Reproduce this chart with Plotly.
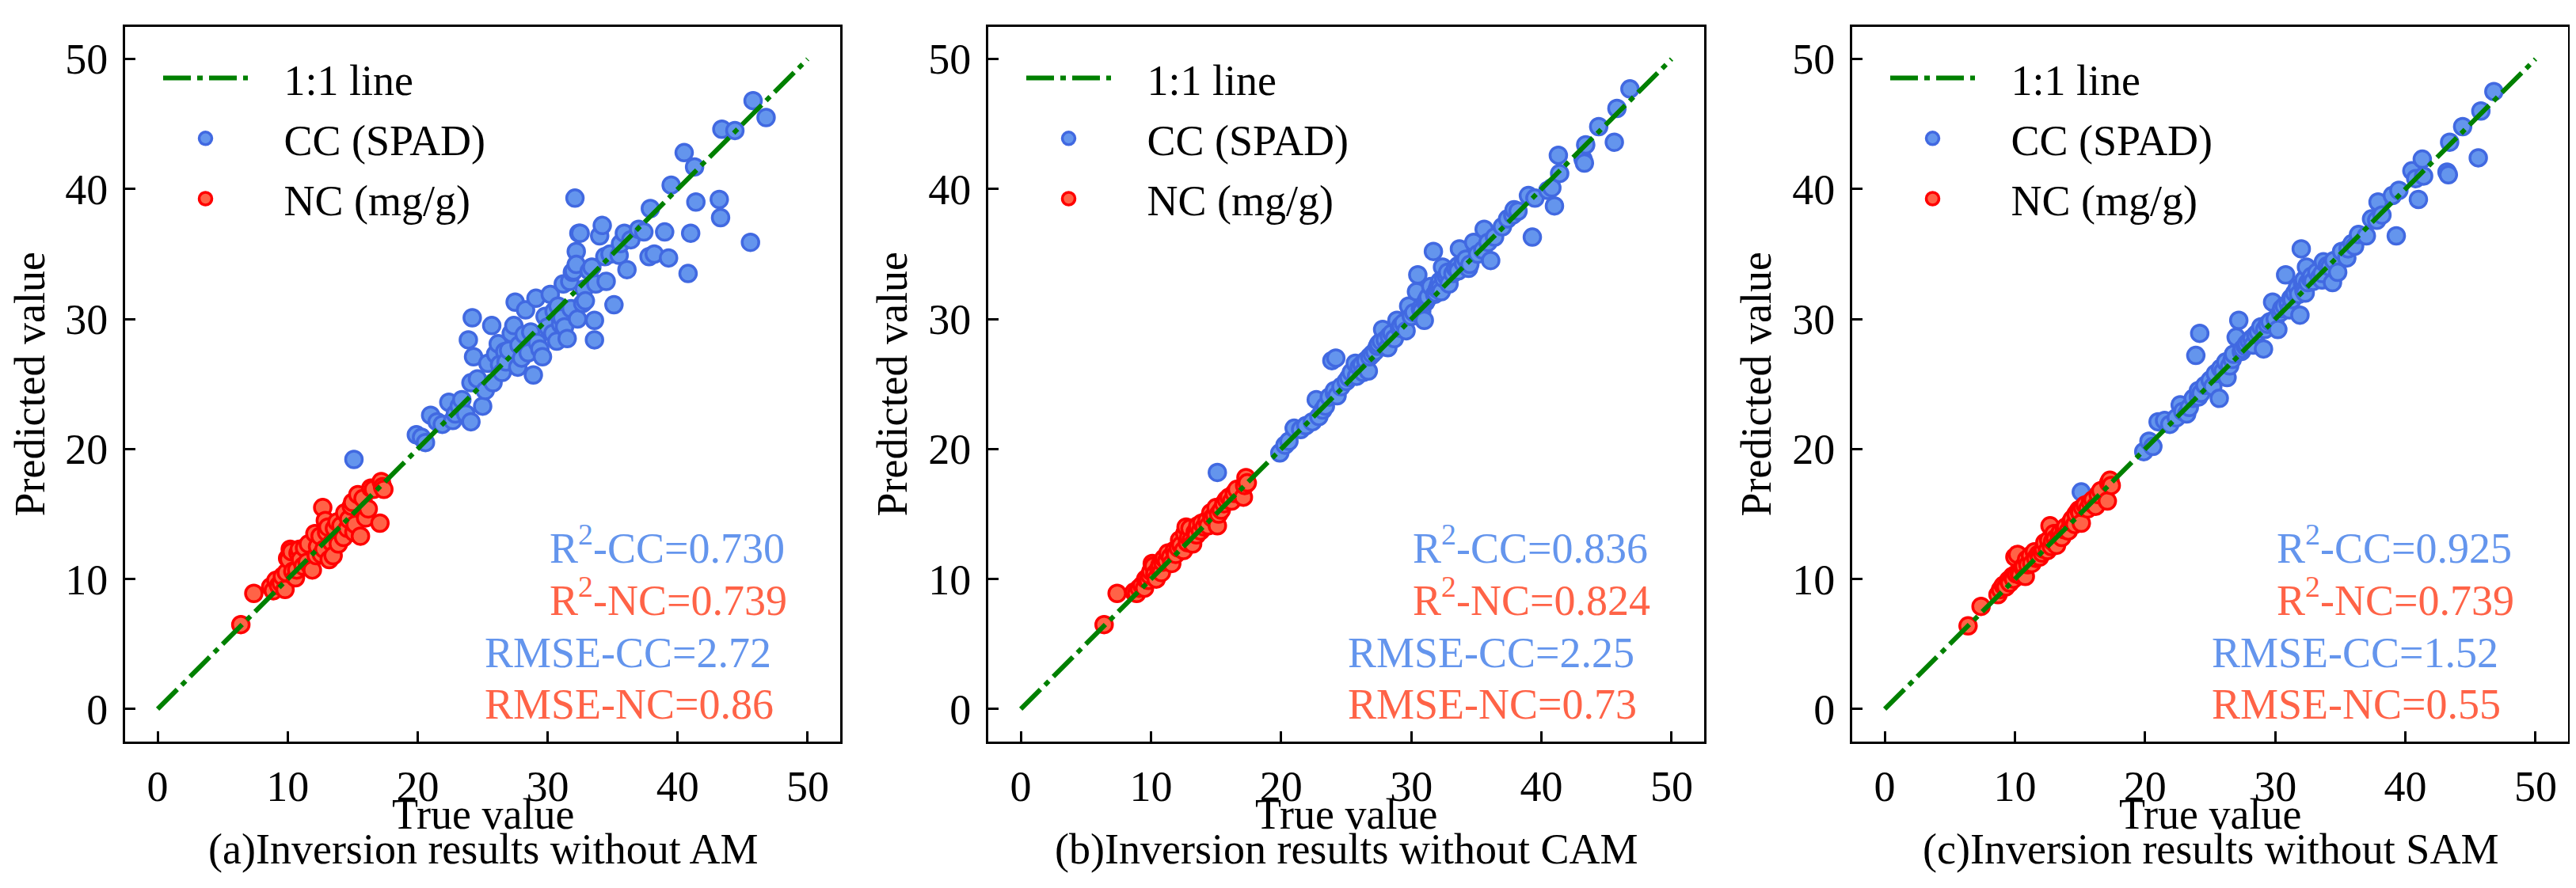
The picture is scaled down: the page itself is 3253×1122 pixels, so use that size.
import plotly.graph_objects as go

FONT = "Liberation Serif"
W, H = 3253, 1122

# shared true values (test set), one predicted list per model variant
cc_true = [15.1, 19.9, 20.3, 20.6, 21.0, 21.5, 21.9, 22.4, 22.7, 22.9,
           23.2, 23.4, 23.7, 23.9, 24.1, 24.1, 24.2, 24.3, 24.6, 25.0,
           25.2, 25.4, 25.7, 25.8, 26.0, 26.2, 26.3, 26.5, 26.7, 26.8,
           27.0, 27.2, 27.4, 27.5, 27.7, 27.8, 28.0, 28.2, 28.3, 28.5,
           28.7, 28.9, 29.1, 29.2, 29.4, 29.6, 29.8, 30.0, 30.2, 30.4,
           30.5, 30.7, 30.8, 31.0, 31.1, 31.2, 31.3, 31.5, 31.7, 31.8,
           31.9, 32.0, 32.1, 32.2, 32.2, 32.3, 32.4, 32.5, 32.7, 32.8,
           32.9, 33.2, 33.4, 33.6, 33.6, 33.7, 34.0, 34.2, 34.4, 34.5,
           34.8, 35.1, 35.5, 35.6, 35.9, 36.1, 36.4, 37.0, 37.4, 37.8,
           37.9, 38.2, 39.0, 39.3, 39.5, 40.5, 40.8, 41.0, 41.3, 41.4,
           43.2, 43.3, 43.4, 44.4, 45.6, 45.8, 46.8]
cc_pred_a = [19.2, 21.1, 20.9, 20.5, 22.6, 22.1, 21.9, 23.6, 22.2, 22.7,
             23.3, 23.8, 22.7, 28.4, 22.1, 25.1, 30.1, 27.1, 25.4, 23.3,
             24.5, 26.6, 29.5, 25.1, 27.3, 28.1, 26.5, 25.9, 27.5, 26.7,
             27.6, 28.9, 29.5, 31.3, 26.3, 28.0, 27.0, 28.8, 30.7, 27.4,
             29.0, 25.7, 31.6, 28.2, 27.7, 27.1, 30.2, 29.4, 31.9, 28.9,
             30.6, 28.3, 31.0, 29.6, 30.1, 32.7, 29.4, 28.5, 32.9, 30.8,
             33.6, 33.7, 39.3, 35.2, 34.2, 30.0, 36.6, 36.6, 31.2, 32.3,
             31.4, 33.7, 34.0, 28.4, 29.9, 32.7, 36.4, 37.2, 34.8, 32.9,
             35.0, 31.1, 34.9, 35.8, 36.6, 33.8, 36.1, 36.9, 36.7, 34.8,
             38.5, 35.0, 36.7, 34.7, 40.3, 42.8, 33.5, 36.6, 41.7, 39.0,
             39.2, 37.8, 44.6, 44.5, 35.9, 46.8, 45.5]
cc_pred_b = [18.2, 19.7, 20.3, 20.6, 21.6, 21.5, 21.8, 22.1, 23.8, 22.5,
             23.0, 23.3, 24.0, 26.8, 24.3, 24.5, 27.0, 24.1, 24.8, 25.2,
             25.5, 25.9, 26.6, 25.6, 26.3, 26.5, 25.9, 26.8, 26.0, 27.1,
             27.3, 27.5, 27.9, 28.1, 28.3, 29.2, 28.4, 27.8, 28.7, 28.9,
             28.5, 29.9, 29.3, 29.5, 29.7, 29.1, 31.0, 30.2, 30.5, 32.1,
             33.4, 30.8, 30.6, 29.9, 31.3, 31.5, 31.7, 32.5, 35.2, 31.9,
             32.0, 32.3, 32.6, 32.9, 32.4, 32.1, 34.0, 33.1, 33.3, 33.6,
             32.7, 33.5, 33.9, 34.1, 33.7, 35.4, 34.3, 34.6, 33.9, 34.2,
             35.9, 35.0, 35.3, 36.9, 35.9, 34.5, 36.3, 37.1, 37.7, 38.0,
             38.4, 38.3, 39.5, 36.3, 39.3, 39.9, 40.1, 38.7, 42.6, 41.2,
             42.3, 42.0, 43.4, 44.8, 43.6, 46.2, 47.7]
cc_pred_c = [16.7, 19.8, 20.6, 20.2, 22.1, 22.2, 21.9, 22.4, 23.4, 22.9,
             22.7, 23.2, 23.9, 27.2, 24.0, 24.5, 28.9, 24.3, 24.9, 25.3,
             24.8, 25.8, 23.9, 26.2, 26.0, 26.7, 25.5, 26.4, 26.9, 27.3,
             28.6, 29.9, 27.5, 27.7, 27.9, 28.1, 28.3, 28.5, 28.0, 28.8,
             29.0, 29.4, 27.7, 29.2, 29.6, 29.8, 31.3, 30.0, 29.2, 30.5,
             30.8, 31.0, 33.4, 31.2, 30.7, 31.6, 31.5, 32.0, 32.4, 31.9,
             30.3, 35.4, 32.7, 33.0, 32.2, 32.0, 34.0, 32.8, 33.1, 33.3,
             32.9, 33.6, 33.2, 33.0, 33.5, 34.4, 34.1, 34.0, 32.8, 34.5,
             33.6, 35.2, 34.7, 35.4, 35.8, 35.6, 36.5, 36.4, 37.7, 37.6,
             39.0, 38.0, 39.5, 36.4, 39.9, 41.4, 40.8, 39.2, 42.3, 41.0,
             41.3, 41.1, 43.6, 44.8, 42.4, 46.0, 47.5]

nc_true = [6.4, 7.4, 8.7, 8.9, 9.1, 9.3, 9.5, 9.6, 9.8, 9.9,
           10.0, 10.1, 10.2, 10.3, 10.4, 10.6, 10.7, 10.8, 10.9, 11.0,
           11.2, 11.3, 11.5, 11.6, 11.8, 11.9, 12.1, 12.2, 12.3, 12.5,
           12.6, 12.7, 12.8, 12.9, 13.0, 13.1, 13.2, 13.4, 13.5, 13.6,
           13.8, 13.9, 14.1, 14.3, 14.4, 14.6, 14.7, 14.9, 15.0, 15.1,
           15.2, 15.4, 15.6, 15.8, 16.0, 16.2, 16.4, 16.6, 17.1, 17.2,
           17.3, 17.4]
nc_pred_a = [6.5, 8.9, 9.4, 9.1, 9.9, 9.5, 9.7, 10.2, 9.2, 10.5,
             11.6, 11.5, 12.3, 12.1, 10.6, 10.1, 10.7, 12.0, 12.3, 11.5,
             11.0, 12.4, 11.3, 12.7, 10.9, 10.7, 13.5, 11.8, 12.5, 13.3,
             11.9, 15.5, 12.3, 14.5, 13.6, 14.0, 11.5, 12.8, 11.8, 13.9,
             14.4, 12.7, 14.1, 13.2, 15.1, 13.9, 14.6, 15.6, 15.9, 13.6,
             14.2, 16.5, 13.3, 16.2, 14.7, 15.4, 17.0, 16.9, 14.3, 17.5,
             17.1, 16.9]
nc_pred_b = [6.5, 8.9, 9.0, 8.9, 9.3, 9.5, 9.3, 10.0, 9.9, 10.3,
             10.6, 11.2, 11.0, 10.4, 10.0, 10.8, 11.1, 10.5, 11.3, 11.6,
             11.4, 12.0, 11.7, 11.2, 12.2, 11.9, 12.4, 13.0, 12.6, 12.2,
             13.5, 14.0, 12.8, 13.2, 13.9, 13.0, 12.7, 13.6, 13.4, 14.1,
             13.7, 14.3, 14.0, 14.5, 14.1, 15.1, 14.7, 14.9, 15.5, 14.1,
             15.0, 15.3, 15.8, 16.1, 16.3, 16.0, 16.6, 16.9, 16.3, 17.2,
             17.8, 17.4]
nc_pred_c = [6.4, 7.9, 8.8, 9.2, 9.5, 9.4, 9.9, 9.7, 10.2, 10.0,
             11.7, 10.4, 11.9, 10.5, 10.3, 10.9, 11.0, 10.2, 11.5, 11.1,
             11.8, 11.2, 12.1, 11.6, 11.9, 11.7, 12.0, 12.3, 12.8, 12.2,
             13.0, 14.1, 12.5, 12.9, 13.5, 13.1, 12.6, 13.4, 13.6, 13.2,
             13.8, 14.0, 13.7, 14.4, 14.6, 14.2, 15.0, 15.3, 15.1, 14.3,
             15.5, 15.7, 15.4, 15.9, 16.1, 15.6, 16.5, 16.8, 16.0, 17.4,
             17.6, 17.2]

one_to_one = [0, 50]

r2_cc = ["0.730", "0.836", "0.925"]
r2_nc = ["0.739", "0.824", "0.739"]
rmse_cc = ["2.72", "2.25", "1.52"]
rmse_nc = ["0.86", "0.73", "0.55"]
subtitles = ["(a)Inversion results without AM",
             "(b)Inversion results without CAM",
             "(c)Inversion results without SAM"]
tick_vals = [0, 10, 20, 30, 40, 50]

cc_preds = [cc_pred_a, cc_pred_b, cc_pred_c]
nc_preds = [nc_pred_a, nc_pred_b, nc_pred_c]

# panel boxes in pixels (left, right)
panels_px = [(150, 1053), (1240, 2144), (2331, 3235)]
y_dom = [1 - 929 / H, 1 - 25.5 / H]

CC_FILL, CC_EDGE = "#6495ED", "#4169E1"
NC_FILL, NC_EDGE = "#FF6347", "#FF0000"
GREEN = "#008000"
SP = "\u00a0" * 3
FS = 54
label_font = dict(family=FONT, size=FS, color="black")

fig = go.Figure()
annotations = []

for i in range(3):
    s = "" if i == 0 else str(i + 1)
    xa, ya, lg = "x" + s, "y" + s, "legend" + s

    fig.add_trace(go.Scatter(
        x=cc_true, y=cc_preds[i], mode="markers", name=SP + "CC (SPAD)",
        xaxis=xa, yaxis=ya, legend=lg, legendrank=2, legendgroup="cc" + s,
        marker=dict(size=21, color=CC_FILL, line=dict(color=CC_EDGE, width=3.5))))
    fig.add_trace(go.Scatter(
        x=nc_true, y=nc_preds[i], mode="markers", name=SP + "NC (mg/g)",
        xaxis=xa, yaxis=ya, legend=lg, legendrank=3, legendgroup="nc" + s,
        marker=dict(size=21, color=NC_FILL, line=dict(color=NC_EDGE, width=3.5))))
    fig.add_trace(go.Scatter(
        x=one_to_one, y=one_to_one, mode="lines", name=SP + "1:1 line",
        xaxis=xa, yaxis=ya, legend=lg, legendrank=1, legendgroup="line" + s,
        line=dict(color=GREEN, width=6, dash="35px,8px,7px,8px")))

    l, r = panels_px[i]
    axis_common = dict(range=[-2.5, 52.5], tickvals=tick_vals, ticks="inside",
                       ticklen=13, tickwidth=3, tickcolor="black",
                       showline=True, linewidth=3, linecolor="black", mirror=True,
                       showgrid=False, zeroline=False, tickfont=label_font)
    fig.layout["xaxis" + s] = dict(domain=[l / W, r / W], anchor=ya,
                                   ticklabelstandoff=7, **axis_common)
    fig.layout["yaxis" + s] = dict(
        domain=y_dom, anchor=xa, ticklabelstandoff=8,
        title=dict(text="Predicted value", font=label_font, standoff=10),
        **axis_common)

    fig.layout[lg] = dict(
        x=(l + 43) / W, y=1 - 49 / H, xanchor="left", yanchor="top",
        bgcolor="rgba(0,0,0,0)", itemwidth=107, traceorder="grouped",
        tracegroupgap=3, font=label_font)

    stats = [("R<sup>2</sup>-CC=" + r2_cc[i], CC_FILL, 30, 11),
             ("R<sup>2</sup>-NC=" + r2_nc[i], NC_FILL, 30, 7),
             ("RMSE-CC=" + rmse_cc[i], CC_FILL, 25, 3),
             ("RMSE-NC=" + rmse_nc[i], NC_FILL, 25, -1)]
    for txt, col, xx, yy in stats:
        annotations.append(dict(
            text=txt, x=xx, y=yy, xref=xa, yref=ya, xanchor="left", yanchor="bottom",
            yshift=-10, showarrow=False, font=dict(family=FONT, size=FS, color=col)))

    # x label: "True value" and the panel caption below it
    annotations.append(dict(
        text="True value", x=0.5, y=1 - 1053 / H, xref=xa + " domain", yref="paper",
        xanchor="center", yanchor="bottom", showarrow=False, font=label_font))
    annotations.append(dict(
        text=subtitles[i], x=0.5, y=1 - 1097 / H, xref=xa + " domain", yref="paper",
        xanchor="center", yanchor="bottom", showarrow=False, font=label_font))

fig.update_layout(
    width=W, height=H, margin=dict(l=0, r=0, t=0, b=0),
    plot_bgcolor="white", paper_bgcolor="white",
    font=dict(family=FONT, color="black"),
    annotations=annotations)

fig.write_html("out.html")
